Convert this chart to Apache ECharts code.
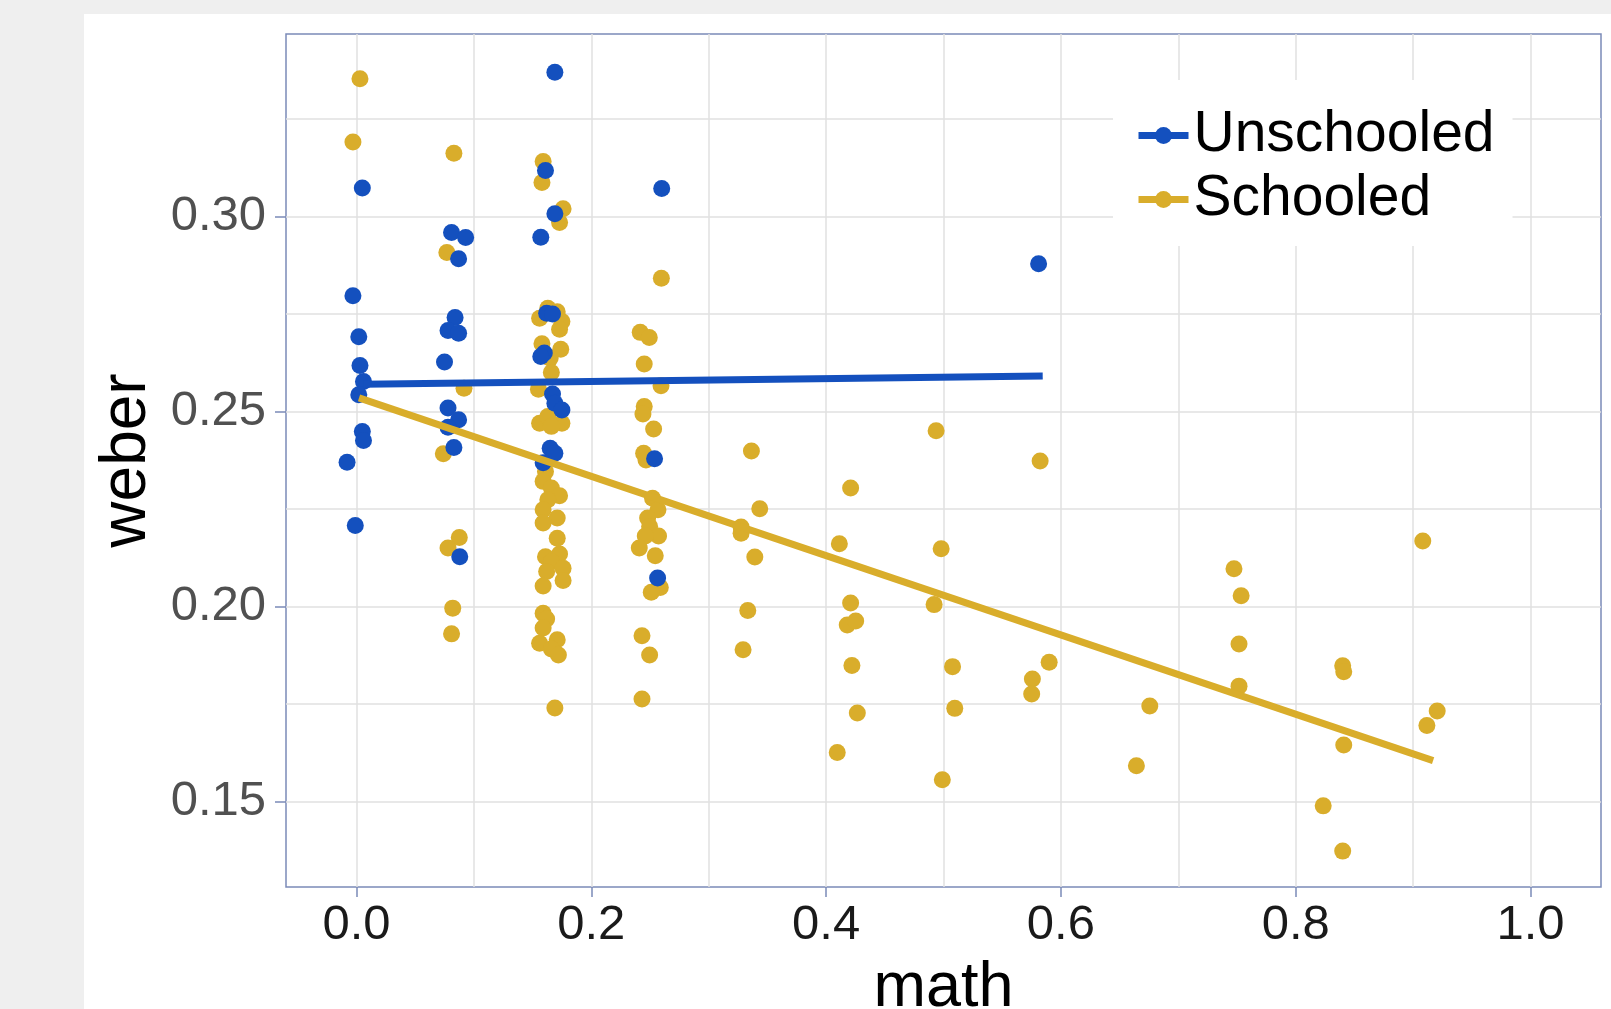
<!DOCTYPE html>
<html>
<head>
<meta charset="utf-8">
<script src="https://cdn.jsdelivr.net/npm/echarts@6/dist/echarts.min.js"></script>
<style>
  html, body { margin: 0; padding: 0; background: #efefef; width: 1611px; height: 1009px; overflow: hidden; }
  #paper { position: absolute; left: 84px; top: 14px; right: 0; bottom: 0; background: #ffffff; }
  #chart { position: absolute; left: 0; top: 0; width: 1611px; height: 1009px; }
</style>
</head>
<body>
<div id="paper"></div>
<div id="chart"></div>
<script>
// ---- data ----
const seriesNames = ['Unschooled', 'Schooled'];

const unschooledPoints = [
  [0.005, 0.3073], [-0.003, 0.2797], [0.002, 0.2692], [0.003, 0.2618], [0.006, 0.2577],
  [0.002, 0.2543], [0.005, 0.2449], [0.006, 0.2426], [-0.008, 0.2370], [-0.001, 0.2208],
  [0.081, 0.2959], [0.093, 0.2946], [0.087, 0.2892], [0.084, 0.2741], [0.078, 0.2708],
  [0.087, 0.2701], [0.075, 0.2627], [0.078, 0.2509], [0.087, 0.2479], [0.078, 0.2460],
  [0.083, 0.2408], [0.088, 0.2128],
  [0.169, 0.3370], [0.161, 0.3118], [0.169, 0.3007], [0.157, 0.2947], [0.162, 0.2752],
  [0.167, 0.2750], [0.160, 0.2650], [0.157, 0.2641], [0.167, 0.2545], [0.169, 0.2521],
  [0.175, 0.2504], [0.165, 0.2406], [0.169, 0.2393], [0.159, 0.2369],
  [0.2600, 0.3072], [0.2539, 0.2379], [0.2565, 0.2073],
  [0.5810, 0.2879]
];

const schooledPoints = [
  [0.003, 0.3353], [-0.003, 0.3191],
  [0.083, 0.3162], [0.077, 0.2908], [0.0916, 0.2560], [0.074, 0.2392], [0.0876, 0.2177],
  [0.078, 0.2150], [0.082, 0.1996], [0.081, 0.1930],
  [0.159, 0.3141], [0.158, 0.3087], [0.176, 0.3020], [0.173, 0.2985], [0.163, 0.2765],
  [0.156, 0.2739], [0.171, 0.2756], [0.175, 0.2731], [0.173, 0.2711], [0.158, 0.2674],
  [0.174, 0.2660], [0.165, 0.2637], [0.166, 0.2600], [0.155, 0.2557], [0.156, 0.2470],
  [0.163, 0.2487], [0.175, 0.2470], [0.166, 0.2462], [0.161, 0.2346], [0.159, 0.2321],
  [0.166, 0.2304], [0.173, 0.2284], [0.163, 0.2274], [0.159, 0.2248], [0.171, 0.2227],
  [0.159, 0.2214], [0.171, 0.2175], [0.161, 0.2128], [0.173, 0.2135], [0.166, 0.2115],
  [0.176, 0.2098], [0.162, 0.2090], [0.176, 0.2067], [0.159, 0.2053], [0.159, 0.1983],
  [0.162, 0.1968], [0.159, 0.1945], [0.156, 0.1906], [0.171, 0.1915], [0.166, 0.1891],
  [0.172, 0.1876], [0.169, 0.1740],
  [0.2597, 0.2842], [0.2417, 0.2703], [0.2494, 0.2690], [0.2451, 0.2622], [0.2594, 0.2566],
  [0.2451, 0.2513], [0.2440, 0.2494], [0.2531, 0.2455], [0.2446, 0.2393], [0.2466, 0.2376],
  [0.2522, 0.2278], [0.2568, 0.2248], [0.2480, 0.2227], [0.2497, 0.2205], [0.2573, 0.2181],
  [0.2460, 0.2181], [0.2409, 0.2150], [0.2545, 0.2130], [0.2588, 0.2049], [0.2511, 0.2037],
  [0.2432, 0.1925], [0.2497, 0.1876], [0.2432, 0.1763],
  [0.3364, 0.2399], [0.3435, 0.2251], [0.3276, 0.2204], [0.3276, 0.2188], [0.3393, 0.2127],
  [0.3333, 0.1990], [0.3293, 0.1889],
  [0.4209, 0.2304], [0.4113, 0.2161], [0.4209, 0.2009], [0.4180, 0.1953], [0.4252, 0.1963],
  [0.4220, 0.1849], [0.4266, 0.1727], [0.4095, 0.1626],
  [0.4937, 0.2451], [0.4980, 0.2148], [0.4920, 0.2005], [0.5077, 0.1846], [0.5096, 0.1739],
  [0.4990, 0.1556],
  [0.5823, 0.2373], [0.5900, 0.1857], [0.5757, 0.1814], [0.5751, 0.1776],
  [0.6643, 0.1592], [0.6757, 0.1745],
  [0.7474, 0.2097], [0.7535, 0.2028], [0.7517, 0.1904], [0.7517, 0.1796],
  [0.8400, 0.1848], [0.8409, 0.1833], [0.8409, 0.1645], [0.8234, 0.1489], [0.8400, 0.1373],
  [0.9082, 0.2168], [0.9205, 0.1732], [0.9117, 0.1695]
];

// fitted lines (end points, in data units)
const unschooledFit = [[0.0057, 0.2570], [0.5845, 0.2591]];
const schooledFit = [[0.0022, 0.2535], [0.917, 0.1605]];

// axes
const xTickValues = [0, 0.2, 0.4, 0.6, 0.8, 1.0];
const yTickValues = [0.15, 0.20, 0.25, 0.30];
const xRange = [-0.06, 1.06];
const yRange = [0.1281, 0.3468];

// ---- chart ----
const BLUE = '#1450be';
const GOLD = '#d9ad2b';
const FRAME = '#7b8bb8';
const GRIDC = '#e1e1e1';
const FONT = 'Liberation Sans';

const chart = echarts.init(document.getElementById('chart'), null, { renderer: 'canvas' });

const option = {
  backgroundColor: 'transparent',
  animation: false,
  grid: {
    left: 286, top: 34, width: 1315, height: 853,
    containLabel: false, outerBoundsMode: 'none',
    show: true, backgroundColor: '#ffffff', borderColor: FRAME, borderWidth: 1.5
  },
  legend: {
    orient: 'vertical',
    left: 1113, top: 80,
    backgroundColor: '#ffffff',
    padding: [27, 18, 18, 22],
    itemWidth: 50, itemHeight: 21, itemGap: 7,
    data: seriesNames,
    textStyle: { fontFamily: FONT, fontSize: 57, color: '#000', lineHeight: 55 },
    lineStyle: { width: 7 }
  },
  xAxis: {
    type: 'value', min: xRange[0], max: xRange[1],
    name: 'math', nameLocation: 'middle', nameGap: 70,
    nameTextStyle: { fontFamily: FONT, fontSize: 63, color: '#000' },
    axisLine: { show: false, onZero: false },
    axisTick: { show: true, length: 10, customValues: xTickValues, lineStyle: { color: FRAME, width: 1.5 } },
    axisLabel: {
      customValues: xTickValues,
      margin: 14, fontFamily: FONT, fontSize: 49, color: '#1a1a1a',
      formatter: v => v.toFixed(1)
    },
    splitLine: { show: true, lineStyle: { color: GRIDC, width: 1.5 } },
    minorTick: { show: false, splitNumber: 2 },
    minorSplitLine: { show: true, lineStyle: { color: GRIDC, width: 1.5 } }
  },
  yAxis: {
    type: 'value', min: yRange[0], max: yRange[1],
    name: 'weber', nameLocation: 'middle', nameGap: 118,
    nameTextStyle: { fontFamily: FONT, fontSize: 64, color: '#000' },
    axisLine: { show: false, onZero: false },
    axisTick: { show: true, length: 11, customValues: yTickValues, lineStyle: { color: FRAME, width: 1.5 } },
    axisLabel: {
      customValues: yTickValues,
      margin: 20, fontFamily: FONT, fontSize: 49, color: '#505050',
      formatter: v => v.toFixed(2)
    },
    splitLine: { show: true, lineStyle: { color: GRIDC, width: 1.5 } },
    minorTick: { show: false, splitNumber: 2 },
    minorSplitLine: { show: true, lineStyle: { color: GRIDC, width: 1.5 } }
  },
  series: [
    {
      name: seriesNames[0], type: 'line', data: unschooledFit,
      symbol: 'circle', showSymbol: false, z: 5, silent: true,
      itemStyle: { color: BLUE },
      lineStyle: { color: BLUE, width: 7 }
    },
    {
      name: seriesNames[1], type: 'line', data: schooledFit,
      symbol: 'circle', showSymbol: false, z: 5, silent: true,
      itemStyle: { color: GOLD },
      lineStyle: { color: GOLD, width: 7 }
    },
    {
      name: seriesNames[1], type: 'scatter', data: schooledPoints,
      symbol: 'circle', symbolSize: 17, z: 3,
      itemStyle: { color: GOLD, opacity: 1 }
    },
    {
      name: seriesNames[0], type: 'scatter', data: unschooledPoints,
      symbol: 'circle', symbolSize: 17, z: 3,
      itemStyle: { color: BLUE, opacity: 1 }
    }
  ]
};

chart.setOption(option);
</script>
</body>
</html>
